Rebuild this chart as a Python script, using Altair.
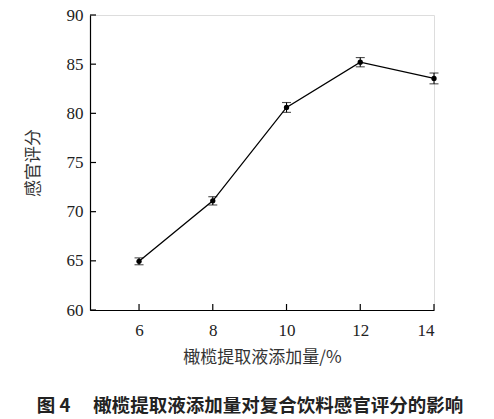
import altair as alt
import pandas as pd

amount = [6, 8, 10, 12, 14]
score = [64.95, 71.1, 80.6, 85.2, 83.55]
err = [0.35, 0.42, 0.5, 0.47, 0.55]
x_ticks = [6, 8, 10, 12, 14]
y_ticks = [60, 65, 70, 75, 80, 85, 90]

df = pd.DataFrame({"x": amount, "y": score, "e": err})
df["lo"] = df["y"] - df["e"]
df["hi"] = df["y"] + df["e"]

W, H = 344, 295
serif = "Liberation Serif"
cjk = "Noto Sans CJK SC"

xs = alt.Scale(domain=[4.67, 14], nice=False, zero=False)
ys = alt.Scale(domain=[60, 90], nice=False, zero=False)

xaxis = alt.Axis(values=x_ticks, ticks=False, grid=False, domainColor="black", domainWidth=1.2,
                 labelFont=serif, labelFontSize=17, labelColor="#222", labelPadding=12,
                 title="橄榄提取液添加量/%", titleFont=cjk, titleFontSize=17, titleFontWeight="normal",
                 titleColor="#333", titlePadding=11)
yaxis = alt.Axis(values=y_ticks, ticks=False, grid=False, domainColor="black", domainWidth=1.2,
                 labelFont=serif, labelFontSize=17, labelColor="#222", labelPadding=7,
                 title="感官评分", titleFont=cjk, titleFontSize=17, titleFontWeight="normal",
                 titleColor="#333", titlePadding=24)

base = alt.Chart(df)

line = base.mark_line(color="black", strokeWidth=1.3).encode(
    x=alt.X("x:Q", scale=xs, axis=xaxis),
    y=alt.Y("y:Q", scale=ys, axis=yaxis),
)
pts = base.mark_circle(color="black", opacity=1, size=28).encode(x="x:Q", y="y:Q")
bars = base.mark_rule(color="black", strokeWidth=1.1).encode(x="x:Q", y="lo:Q", y2="hi:Q")
cap_lo = base.mark_tick(color="black", orient="horizontal", size=9, thickness=1.1).encode(x="x:Q", y="lo:Q")
cap_hi = base.mark_tick(color="black", orient="horizontal", size=9, thickness=1.1).encode(x="x:Q", y="hi:Q")

xt = alt.Chart(pd.DataFrame({"t": x_ticks})).mark_rule(color="black", strokeWidth=1.2).encode(
    x=alt.X("t:Q", scale=xs), y=alt.value(H), y2=alt.value(H - 6))
yt = alt.Chart(pd.DataFrame({"t": y_ticks})).mark_rule(color="black", strokeWidth=1.2).encode(
    y=alt.Y("t:Q", scale=ys), x=alt.value(0), x2=alt.value(6))

chart = alt.layer(line, bars, cap_lo, cap_hi, pts, xt, yt).properties(
    width=W, height=H,
    autosize=alt.AutoSizeParams(type="none"),
    padding={"left": 90, "top": 15, "right": 60, "bottom": 109},
    title=alt.TitleParams("图 4　 橄榄提取液添加量对复合饮料感官评分的影响", orient="bottom",
                          anchor="middle", font=cjk, fontSize=18.5, fontWeight="bold",
                          color="#222", offset=32, dx=-12),
).configure_view(stroke=None).configure(background="white")

chart.save("out.html", embed_options={"renderer": "svg", "actions": False})
